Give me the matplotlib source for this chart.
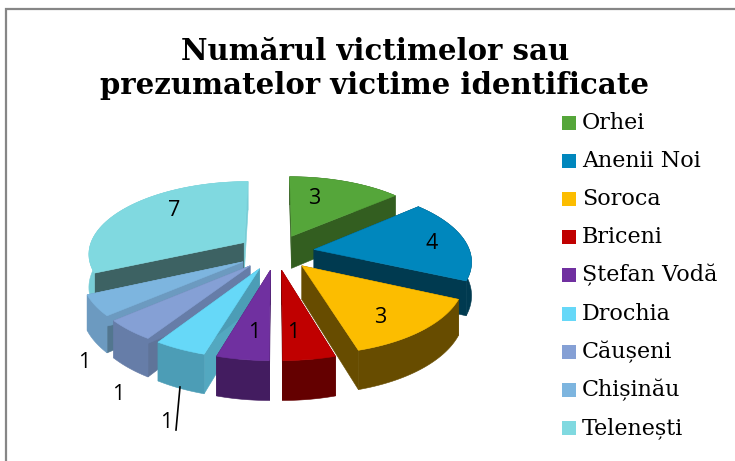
import numpy as np
import matplotlib
matplotlib.use("Agg")
import matplotlib.pyplot as plt
from matplotlib.patches import Polygon, Rectangle

title_lines = ["Numărul victimelor sau", "prezumatelor victime identificate"]
categories = ["Orhei", "Anenii Noi", "Soroca", "Briceni", "Ștefan Vodă", "Drochia", "Căușeni", "Chișinău", "Telenești"]
values = [3, 4, 3, 1, 1, 1, 1, 1, 7]
top_colors = ["#55A63A", "#0087BD", "#FCBD00", "#C00000", "#7030A0", "#66D8F8", "#85A0D5", "#7DB5DF", "#80D9E0"]
rim_colors = ["#335E20", "#003A50", "#674C00", "#640000", "#431C60", "#4C9DB6", "#667DA8", "#6C9AC0", "#78CDD6"]
wall_colors = ["#335E20", "#003A50", "#674C00", "#640000", "#431C60", "#53A8C0", "#5F7499", "#52768F", "#3D6263"]
label_xy = [(314, 198), (432, 243), (380, 317), (293, 332), (254, 332), (166, 422), (118, 394), (84, 362), (174, 210)]

CX, CY, RX, RY, K, EXPLODE, DEPTH = 276, 252, 156, 72, 0.14, 0.247, 33


def project(X, Y, drop=0.0):
    s = 1 / (1 - K * Y)
    return CX + RX * X * s, CY + RY * Y * s + drop * s


fig = plt.figure(figsize=(7.35, 4.61), dpi=100)
ax = fig.add_axes([0, 0, 1, 1])
ax.set_xlim(0, 735)
ax.set_ylim(461, 0)
ax.axis("off")

ax.plot([6, 6, 735], [461, 9, 9], color="#868686", lw=1.6, solid_joinstyle="miter")

edges = np.cumsum([0] + values) / sum(values) * 2 * np.pi
slices = []
for i in range(len(values)):
    a0, a1 = edges[i], edges[i + 1]
    mid = (a0 + a1) / 2
    ox, oy = EXPLODE * np.sin(mid), -EXPLODE * np.cos(mid)
    t = np.linspace(a0, a1, 60)
    slices.append((oy, i, ox, oy, t))

for _, i, ox, oy, t in sorted(slices, key=lambda s: s[0]):
    X = ox + np.sin(t)
    Y = oy - np.cos(t)
    tx, ty = project(X, Y)
    bx, by = project(X, Y, DEPTH)
    rim = np.r_[np.c_[tx, ty], np.c_[bx, by][::-1]]
    ax0, ay0 = project(ox, oy)
    bx0, by0 = project(ox, oy, DEPTH)
    for k, c in ((0, wall_colors[i]), (-1, rim_colors[i])):
        w = [(ax0, ay0), (tx[k], ty[k]), (bx[k], by[k]), (bx0, by0)]
        ax.add_patch(Polygon(w, closed=True, fc=c, ec=c, lw=0.4))
    ax.add_patch(Polygon(rim, closed=True, fc=rim_colors[i], ec=rim_colors[i], lw=0.4))
    top = np.r_[[(ax0, ay0)], np.c_[tx, ty]]
    ax.add_patch(Polygon(top, closed=True, fc=top_colors[i], ec=top_colors[i], lw=0.4))

ax.plot([180, 176], [387, 430], color="black", lw=1.2)

for (x, y), v in zip(label_xy, values):
    ax.text(x, y, str(v), ha="center", va="center", fontsize=15.5, family="Open Sans", color="black")

for line, y in zip(title_lines, (52, 86)):
    ax.text(375, y, line, ha="center", va="center", fontsize=21, fontweight="bold",
            family="DejaVu Serif", color="black")

for k, (name, color) in enumerate(zip(categories, top_colors)):
    y = 123 + 38.1 * k
    ax.add_patch(Rectangle((562, y - 7), 14, 14, fc=color, ec="none"))
    ax.text(582, y, name, ha="left", va="center", fontsize=16, family="DejaVu Serif", color="black")

fig.savefig("out.png", dpi=100)
